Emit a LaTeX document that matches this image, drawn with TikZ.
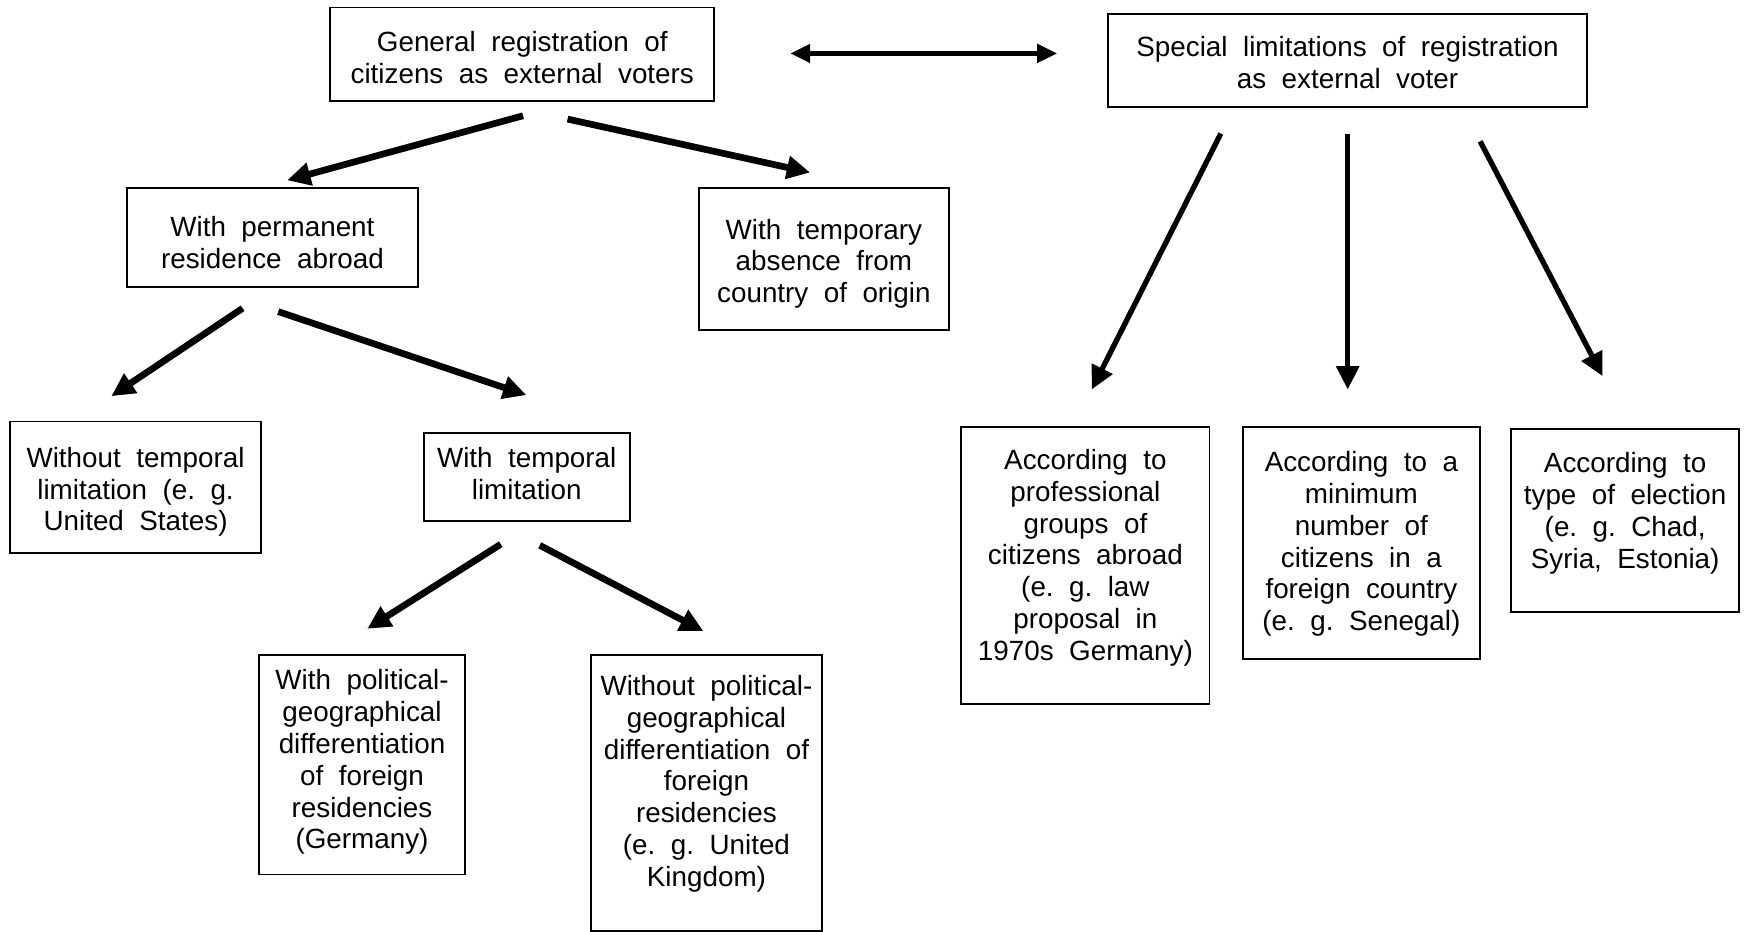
\documentclass[tikz,border=0pt]{standalone}
\usepackage{fontspec}
\setmainfont{Liberation Sans}[WordSpace={2,1,1}]
\usetikzlibrary{arrows.meta}
\newcommand\bx[4]{\parbox[c][#2pt][t]{#1pt}{\centering\vspace*{#3pt}\strut #4}}
\frenchspacing
\begin{document}
\begin{tikzpicture}[x=0.5pt,y=-0.5pt,
  box/.style={draw, line width=0.8pt, inner sep=0pt, anchor=north west,
    font=\fontsize{12.5}{14.3}\selectfont},
  arr/.style={line width=3pt, -{Triangle[length=10.5pt,width=10pt]}},
  darr/.style={line width=2.2pt, {Triangle[length=9pt,width=8pt]}-{Triangle[length=9pt,width=8pt]}}]
\useasboundingbox[fill=white] (0,0) rectangle (1568,837);

\node[box] (gen) at (296,6) {\bx{172.5}{42}{9.8}{General registration of\\citizens as external voters}};
\node[box] (spec) at (995,12) {\bx{215}{41.5}{9}{Special limitations of registration\\as external voter}};
\node[box] (perm) at (113,168) {\bx{131}{44.5}{12}{With permanent\\residence abroad}};
\node[box] (temp) at (627,168) {\bx{112.5}{64}{13}{With temporary\\absence from\\country of origin}};
\node[box] (wot) at (8,378) {\bx{113}{59}{10.5}{Without temporal\\limitation (e. g.\\United States)}};
\node[box] (wt) at (380,388) {\bx{92.5}{39.5}{5.5}{With temporal\\limitation}};
\node[box] (wpol) at (232,588) {\bx{92.5}{98.5}{5.5}{With political-\\geographical\\differentiation\\of foreign\\residencies\\(Germany)}};
\node[box] (wopol) at (530,588) {\bx{104}{124}{8}{Without political-\\geographical\\differentiation of\\foreign\\residencies\\(e. g. United\\Kingdom)}};
\node[box] (prof) at (863,383) {\bx{111.5}{124.5}{9}{According to\\professional\\groups of\\citizens abroad\\(e. g. law\\proposal in\\1970s Germany)}};
\node[box] (mini) at (1116,383) {\bx{106.5}{104}{10}{According to a\\minimum\\number of\\citizens in a\\foreign country\\(e. g. Senegal)}};
\node[box] (typ) at (1357,385) {\bx{102.5}{82}{9.5}{According to\\type of election\\(e. g. Chad,\\Syria, Estonia)}};

\coordinate (d1) at (710,48);
\coordinate (d2) at (950,48);
\coordinate (g1) at (470,104);
\coordinate (p1) at (258,162);
\coordinate (g2) at (510,107);
\coordinate (t1) at (728,155);
\coordinate (pa) at (218,277);
\coordinate (wa) at (100,356);
\coordinate (pb) at (250,280);
\coordinate (wb) at (473,355);
\coordinate (ta) at (450,489);
\coordinate (la) at (330,565);
\coordinate (tb) at (485,490);
\coordinate (lb) at (632,567);
\coordinate (s1) at (1097,120);
\coordinate (e1) at (981,350);
\coordinate (s2) at (1211,120);
\coordinate (e2) at (1211,350);
\coordinate (s3) at (1330,127);
\coordinate (e3) at (1440,338);

\draw[darr] (d1) -- (d2);
\draw[arr] (g1) -- (p1);
\draw[arr] (g2) -- (t1);
\draw[arr] (pa) -- (wa);
\draw[arr] (pb) -- (wb);
\draw[arr] (ta) -- (la);
\draw[arr] (tb) -- (lb);
\draw[arr, line width=2.4pt] (s1) -- (e1);
\draw[arr, line width=2.4pt] (s2) -- (e2);
\draw[arr, line width=2.4pt] (s3) -- (e3);
\end{tikzpicture}
\end{document}
